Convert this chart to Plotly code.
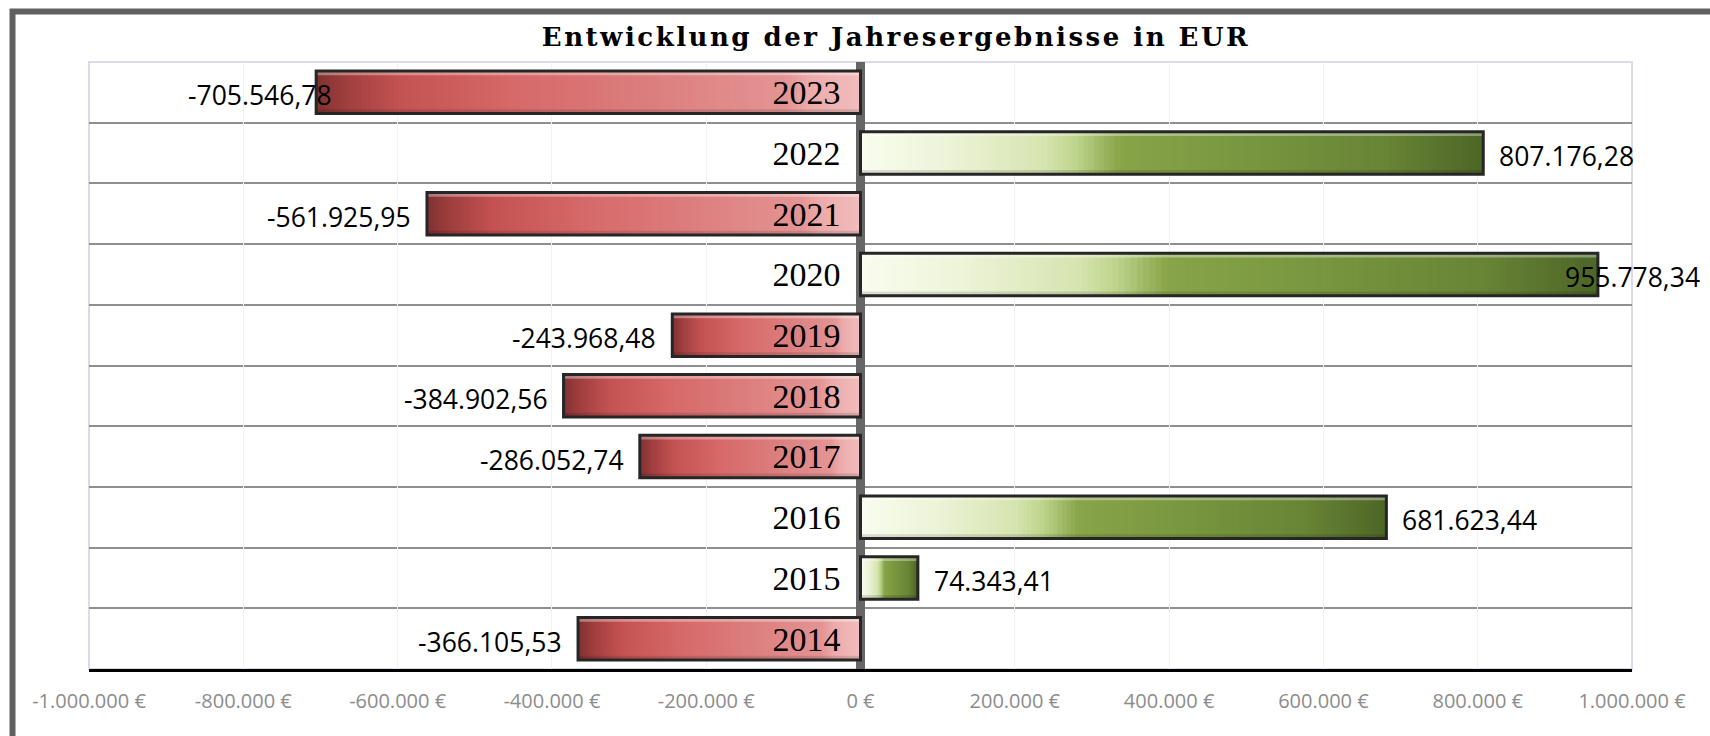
import plotly.graph_objects as go

# ---------------- data ----------------
years = [2014, 2015, 2016, 2017, 2018, 2019, 2020, 2021, 2022, 2023]
results = [-366105.53, 74343.41, 681623.44, -286052.74, -384902.56,
           -243968.48, 955778.34, -561925.95, 807176.28, -705546.78]
x_tickvals = [-1000000, -800000, -600000, -400000, -200000, 0,
              200000, 400000, 600000, 800000, 1000000]
x_ticktext = ["-1.000.000 €", "-800.000 €", "-600.000 €", "-400.000 €", "-200.000 €", "0 €",
              "200.000 €", "400.000 €", "600.000 €", "800.000 €", "1.000.000 €"]
title_text = "Entwicklung der Jahresergebnisse in EUR"

# ---------------- style ----------------
W, H = 1710, 736
ML, MR, MT, MB = 89, 78, 62, 67
PW, PH = W - ML - MR, H - MT - MB
XMIN, XMAX = -1000000, 1000000
BAR_W = 0.70
N_STEPS = 120

# gradient stops: fraction along bar from zero (0) to bar end (1)
red_stops = [(0.0, (242, 190, 190)), (0.10, (236, 170, 170)), (0.14, (228, 148, 148)),
             (0.40, (220, 125, 125)), (0.65, (214, 104, 104)), (0.85, (196, 82, 82)),
             (0.95, (160, 62, 62)), (1.0, (130, 50, 50))]
green_stops = [(0.0, (250, 253, 240)), (0.15, (236, 243, 214)), (0.30, (214, 228, 176)),
               (0.35, (190, 212, 140)), (0.42, (136, 164, 72)), (0.60, (122, 152, 64)),
               (0.85, (104, 132, 54)), (1.0, (78, 102, 38))]


def interp(stops, f):
    for (f0, c0), (f1, c1) in zip(stops[:-1], stops[1:]):
        if f <= f1:
            t = 0 if f1 == f0 else (f - f0) / (f1 - f0)
            c = [round(a + (b - a) * t) for a, b in zip(c0, c1)]
            return f"rgb({c[0]},{c[1]},{c[2]})"
    c = stops[-1][1]
    return f"rgb({c[0]},{c[1]},{c[2]})"


def de_fmt(v):
    s = f"{v:,.2f}"
    return s.replace(",", "X").replace(".", ",").replace("X", ".")


def px_x(px):
    return (px - ML) / PW


def px_y(py):
    return (H - MB - py) / PH


fig = go.Figure()

# gradient bars: painter's layering from full length down to short
for k in range(N_STEPS):
    f = (N_STEPS - k) / N_STEPS
    xs = [v * f for v in results]
    cols = [interp(green_stops if v > 0 else red_stops, f) for v in results]
    fig.add_trace(go.Bar(
        y=years, x=xs, orientation="h", width=BAR_W,
        marker=dict(color=cols, line=dict(width=0)),
        hoverinfo="skip", showlegend=False))

# bevel: top highlight and bottom shade
fig.add_trace(go.Bar(y=years, x=results, orientation="h", width=0.07, offset=BAR_W / 2 - 0.07,
                     marker=dict(color="rgba(255,255,255,0.35)", line=dict(width=0)),
                     hoverinfo="skip", showlegend=False))
fig.add_trace(go.Bar(y=years, x=results, orientation="h", width=0.07, offset=-BAR_W / 2,
                     marker=dict(color="rgba(0,0,0,0.12)", line=dict(width=0)),
                     hoverinfo="skip", showlegend=False))

# outline
fig.add_trace(go.Bar(
    y=years, x=results, orientation="h", width=BAR_W,
    marker=dict(color="rgba(0,0,0,0)", line=dict(color="#262626", width=3)),
    hoverinfo="skip", showlegend=False))

# data labels
label_nudge = {2023: 32}
annotations = []
for yr, v in zip(years, results):
    txt = de_fmt(v)
    shift = 14 if v > 0 else -14
    anchor = "left" if v > 0 else "right"
    # keep labels inside the figure
    end_px = ML + (v - XMIN) / (XMAX - XMIN) * PW
    est_w = 14.5 * len(txt)
    if v > 0 and end_px + shift + est_w > W - 2:
        shift = (W - 2) - est_w - end_px
    shift += label_nudge.get(yr, 0)
    annotations.append(dict(
        x=v, y=yr, xref="x", yref="y", text=txt, showarrow=False,
        xanchor=anchor, yanchor="middle", xshift=shift, yshift=-3,
        font=dict(family="Open Sans", size=26.5, color="#000000")))

fig.update_layout(
    width=W, height=H,
    margin=dict(l=ML, r=MR, t=MT, b=MB, pad=0),
    paper_bgcolor="white", plot_bgcolor="white",
    barmode="overlay",
    title=dict(text=f"<b>{title_text}</b>", x=0.524, xanchor="center",
               y=1 - 37 / H, yanchor="middle", yref="container",
               font=dict(family="DejaVu Serif", size=26, color="#000000")),
    xaxis=dict(range=[XMIN, XMAX], tickvals=x_tickvals, ticktext=x_ticktext,
               tickfont=dict(family="Open Sans", size=20, color="#8c8c8c"),
               showgrid=True, gridcolor="#f2f2f2", gridwidth=1,
               zeroline=True, zerolinecolor="#666666", zerolinewidth=9,
               showline=True, linecolor="#000000", linewidth=2.5,
               ticks="", ticklabelstandoff=12, fixedrange=True),
    yaxis=dict(range=[2013.5, 2023.5], tickvals=years, ticktext=[str(y) for y in years],
               anchor="free", position=px_x(ML + (0 - XMIN) / (XMAX - XMIN) * PW),
               tickfont=dict(family="Liberation Serif", size=34, color="#000000"),
               showgrid=False, zeroline=False, showline=False, ticks="",
               ticklabelstandoff=20,
               minor=dict(tick0=2013.5, dtick=1, showgrid=True, gridcolor="#8f8f8f",
                          gridwidth=2, ticks=""),
               fixedrange=True),
    annotations=annotations,
    shapes=[
        dict(type="rect", xref="paper", yref="paper", x0=0, x1=1, y0=0, y1=1,
             line=dict(color="#ddd9ea", width=2), layer="below"),
        dict(type="rect", xref="paper", yref="paper",
             x0=px_x(12.5), x1=px_x(W + 20), y0=px_y(H + 20), y1=px_y(11.5),
             line=dict(color="#606060", width=6), layer="above"),
    ],
)

post_js = """
document.body.style.margin = '0';
document.body.style.overflow = 'hidden';
var t = document.querySelector('.gtitle');
if (t) { t.style.letterSpacing = '2.5px'; }
"""

fig.write_html("out.html", post_script=post_js, config={"displayModeBar": False})
